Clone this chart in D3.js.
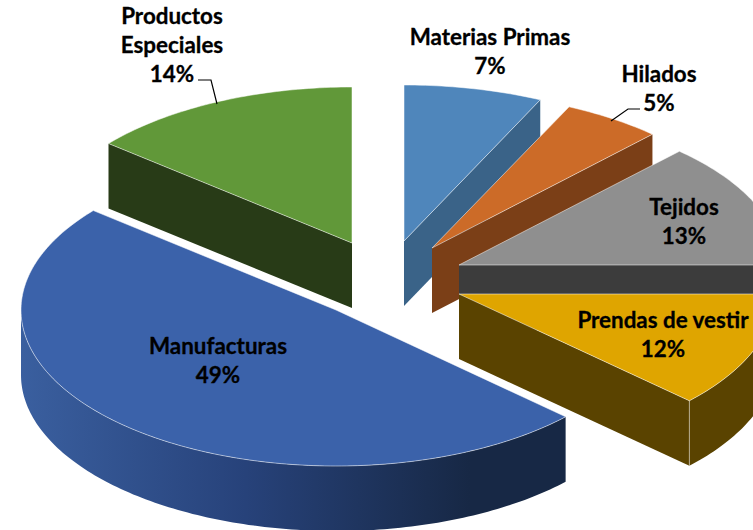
<!DOCTYPE html>
<html>
<head>
<meta charset="utf-8">
<script src="https://cdn.jsdelivr.net/npm/d3@7"></script>
<style>
html,body{margin:0;padding:0;background:#fff;overflow:hidden}
svg{display:block}
text{font-family:Lato,"Open Sans",sans-serif;font-weight:700;font-size:22.4px;fill:#000;stroke:#000;stroke-width:0.3px;text-anchor:middle}
</style>
</head>
<body>
<svg id="c" width="753" height="530"></svg>
<script>
// data
const categories = ["Materias Primas","Hilados","Tejidos","Prendas de vestir","Manufacturas","Productos Especiales"];
const values = [7,5,13,12,49,14];
// colours
const topColors  = ["#4f86bb","#cc6b28","#8f8f8f","#dfa500","#3b62aa","#619839"];
const wallColors = ["#3a6388","#7b3f17","#3c3c3c","#5a4300","url(#blueWall)","#283b17"];
// exploded slice layout (each slice's own ellipse centre and x radius)
const centreX = [404,432,459,459,336,352];
const centreY = [241,248,265,294,310,243];
const radiusX = [320,322,322,316,315,316];
const radiusY = 156, depth = 65;
// labels
const labelLines = [["Materias Primas"],["Hilados"],["Tejidos"],["Prendas de vestir"],["Manufacturas"],["Productos","Especiales"]];
const labelX = [490,659,684,663,218,172];
const labelY = [45,82,215,328,354,24];
const lineGap = 29;
const leaders = [
  [[611,121],[628,109],[640,109]],
  [[198,80],[211,80],[217,104]]
];
// draw order, back to front
const drawOrder = [0,1,2,3,5,4];

const svg = d3.select("#c");
const grad = svg.append("defs").append("linearGradient")
  .attr("id","blueWall").attr("gradientUnits","userSpaceOnUse")
  .attr("x1",21).attr("x2",470).attr("y1",0).attr("y2",0);
grad.append("stop").attr("offset",0).attr("stop-color","#3a5f9f");
grad.append("stop").attr("offset",0.5).attr("stop-color","#27427a");
grad.append("stop").attr("offset",1).attr("stop-color","#172845");

const arcs = d3.pie().sort(null).value(d=>d)(values);
const line = d3.line();
const STEP = Math.PI/180;
function sweep(a0,a1){
  const n = Math.max(2,Math.ceil((a1-a0)/STEP));
  return d3.range(n+1).map(i=>a0+(a1-a0)*i/n);
}
arcs.forEach((a,i)=>{ a.i=i;
  a.sx = d3.scaleLinear().domain([-1,1]).range([centreX[i]-radiusX[i],centreX[i]+radiusX[i]]);
  a.sy = d3.scaleLinear().domain([-1,1]).range([centreY[i]-radiusY,centreY[i]+radiusY]);
  a.pt = (t,dz=0)=>[a.sx(Math.sin(t)),a.sy(-Math.cos(t))+dz];
});

const g = svg.append("g");
drawOrder.forEach(i=>{
  const a = arcs[i], c=[centreX[i],centreY[i]];
  const a0=a.startAngle,a1=a.endAngle;
  const wall = pts => g.append("path").attr("d",line(pts)+"Z").attr("fill",wallColors[i]);
  const edge = pts => g.append("path").attr("d",line(pts)).attr("fill","none")
     .attr("stroke","#fff").attr("stroke-opacity",0.45).attr("stroke-width",1);
  const ray = t => [c,a.pt(t),a.pt(t,depth),[c[0],c[1]+depth]];
  if(a1<=Math.PI) wall(ray(a1));
  if(a0>Math.PI) wall(ray(a0));
  const f0=Math.max(a0,Math.PI/2), f1=Math.min(a1,3*Math.PI/2);
  if(f1>f0){
    const ts=sweep(f0,f1);
    wall(ts.map(t=>a.pt(t)).concat(ts.slice().reverse().map(t=>a.pt(t,depth))));
    if(a0>=Math.PI/2 && a1<=Math.PI) edge([a.pt(a1),a.pt(a1,depth)]);
  }
  const outer = sweep(a0,a1).map(t=>a.pt(t));
  g.append("path").attr("d",line([c].concat(outer))+"Z").attr("fill",topColors[i])
    .attr("stroke","#fff").attr("stroke-opacity",0.5).attr("stroke-width",1).attr("stroke-linejoin","round");
});

svg.append("g").selectAll("path").data(leaders).join("path")
  .attr("d",d=>line(d)).attr("fill","none").attr("stroke","#000").attr("stroke-width",1.2);

const lab = svg.append("g").selectAll("text").data(categories).join("text")
  .attr("x",(d,i)=>labelX[i]).attr("y",(d,i)=>labelY[i]);
lab.each(function(d,i){
  const t=d3.select(this);
  labelLines[i].concat([values[i]+"%"]).forEach((s,k)=>{
    t.append("tspan").attr("x",labelX[i]).attr("y",labelY[i]+k*lineGap).text(s);
  });
});
</script>
</body>
</html>
